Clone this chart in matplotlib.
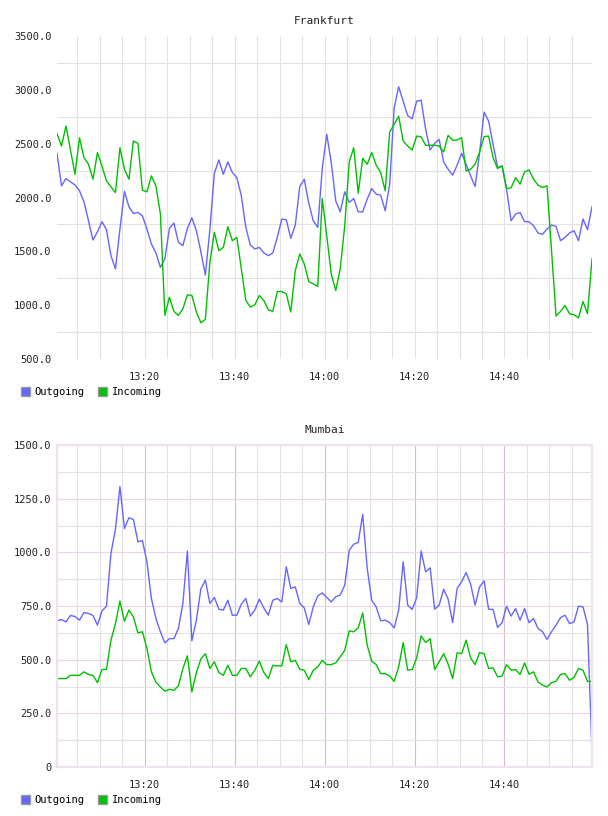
import pandas as pd
import matplotlib
matplotlib.use('Agg')
import matplotlib.pyplot as plt
import matplotlib.dates as mdates
from matplotlib.patches import Patch
from matplotlib.ticker import MultipleLocator, FuncFormatter

# one sample per minute, 13:00:28 .. 14:59:28
times = pd.date_range('2024-01-01 13:00:28', periods=120, freq='1min')

fra_out = [2411, 2108, 2176, 2145, 2117, 2062, 1960, 1784, 1605, 1682,
           1775, 1701, 1460, 1337, 1707, 2056, 1914, 1852, 1861, 1830,
           1707, 1568, 1485, 1352, 1430, 1713, 1763, 1584, 1553, 1713,
           1812, 1692, 1497, 1280, 1700, 2225, 2349, 2216, 2330, 2232,
           2185, 2016, 1722, 1559, 1522, 1537, 1485, 1460, 1485, 1630,
           1800, 1793, 1621, 1744, 2102, 2170, 1948, 1784, 1722, 2269,
           2587, 2324, 1969, 1867, 2053, 1954, 1991, 1867, 1867, 1985,
           2083, 2031, 2022, 1877, 2123, 2833, 3028, 2895, 2760, 2731,
           2895, 2904, 2633, 2441, 2503, 2540, 2330, 2262, 2207, 2300,
           2411, 2309, 2201, 2102, 2417, 2793, 2710, 2494, 2278, 2293,
           2077, 1784, 1846, 1861, 1775, 1775, 1738, 1670, 1658, 1707,
           1744, 1732, 1599, 1630, 1670, 1692, 1599, 1800, 1701, 1914]

fra_in = [2593, 2478, 2664, 2440, 2216, 2555, 2370, 2309, 2170, 2417,
          2293, 2155, 2100, 2046, 2463, 2262, 2170, 2525, 2503, 2068,
          2053, 2201, 2108, 1846, 905, 1074, 942, 905, 967, 1096,
          1090, 936, 837, 868, 1399, 1676, 1506, 1537, 1728, 1599,
          1630, 1337, 1044, 982, 1003, 1090, 1044, 957, 942, 1127,
          1127, 1105, 936, 1321, 1476, 1383, 1219, 1198, 1173, 1991,
          1645, 1290, 1136, 1337, 1738, 2330, 2463, 2040, 2364, 2309,
          2417, 2300, 2232, 2062, 2608, 2679, 2756, 2525, 2478, 2441,
          2571, 2562, 2485, 2485, 2485, 2478, 2423, 2577, 2531, 2534,
          2555, 2247, 2262, 2309, 2423, 2565, 2571, 2370, 2269, 2293,
          2083, 2090, 2185, 2124, 2238, 2256, 2170, 2114, 2093, 2108,
          1506, 899, 942, 997, 920, 911, 883, 1034, 920, 1430]

mum_out = [681, 687, 676, 706, 701, 684, 720, 715, 706, 661,
           727, 749, 995, 1108, 1306, 1111, 1161, 1153, 1049, 1055,
           956, 785, 692, 630, 578, 598, 598, 645, 762, 1006,
           588, 684, 830, 870, 762, 790, 735, 731, 777, 707,
           707, 759, 785, 703, 731, 782, 741, 707, 777, 785,
           769, 933, 832, 839, 762, 741, 664, 746, 797, 811,
           790, 769, 793, 801, 847, 1010, 1038, 1046, 1177, 925,
           777, 746, 681, 684, 673, 648, 731, 956, 754, 734,
           788, 1006, 909, 928, 735, 754, 828, 782, 673, 832,
           863, 906, 852, 754, 839, 867, 735, 734, 650, 672,
           749, 703, 738, 684, 738, 672, 692, 645, 630, 594,
           630, 661, 696, 707, 668, 676, 749, 746, 664, 65]

mum_in = [412, 412, 412, 427, 427, 427, 443, 431, 427, 393,
          454, 455, 591, 668, 773, 679, 731, 699, 625, 630,
          552, 443, 396, 373, 353, 362, 357, 378, 459, 518,
          350, 440, 503, 528, 459, 490, 440, 427, 474, 427,
          427, 459, 459, 420, 451, 493, 440, 412, 474, 471,
          471, 570, 490, 497, 455, 451, 407, 451, 466, 497,
          477, 477, 485, 513, 544, 634, 630, 648, 718, 567,
          493, 477, 435, 435, 424, 399, 466, 580, 451, 454,
          508, 611, 580, 598, 454, 490, 528, 479, 412, 532,
          528, 591, 508, 477, 533, 528, 459, 462, 420, 424,
          477, 451, 454, 431, 485, 432, 443, 396, 381, 373,
          393, 399, 431, 435, 404, 417, 459, 451, 399, 399]

BLUE = '#6666ff'
GREEN = '#00c000'
MONO = 'DejaVu Sans Mono'
TXT = '#222222'

fig = plt.figure(figsize=(6.08, 8.16), dpi=100)
ax1 = fig.add_axes([57 / 608, 1 - 359 / 816, 535 / 608, 323 / 816])
ax2 = fig.add_axes([57 / 608, 1 - 767 / 816, 535 / 608, 322 / 816])


def fmt_val(v, pos):
    return '0' if v == 0 else '%.1f' % v


def style(ax, title, lo, hi, step, bottom_chart):
    ax.set_xlim(times[0], times[-1])
    ax.set_ylim(lo, hi)
    ax.xaxis.set_major_locator(mdates.MinuteLocator(byminute=[0, 20, 40]))
    ax.xaxis.set_minor_locator(mdates.MinuteLocator(byminute=range(0, 60, 5)))
    ax.xaxis.set_major_formatter(mdates.DateFormatter('%H:%M'))
    ax.yaxis.set_major_locator(MultipleLocator(step))
    ax.yaxis.set_minor_locator(MultipleLocator(step / 2))
    ax.yaxis.set_major_formatter(FuncFormatter(fmt_val))
    ax.tick_params(which='both', length=0, labelsize=7.5, labelcolor=TXT)
    ax.tick_params(axis='x', pad=9)
    ax.tick_params(axis='y', pad=4)
    for lab in ax.get_xticklabels() + ax.get_yticklabels():
        lab.set_family(MONO)
    ax.set_title(title, fontsize=8, family=MONO, color=TXT, pad=8.5)
    ax.set_axisbelow(True)
    if bottom_chart:
        ax.grid(True, which='minor', color='#e2e2e2', lw=0.8)
        ax.grid(True, which='major', axis='y', color='#ead8ea', lw=0.8)
        ax.grid(True, which='major', axis='x', color='#d4bcd4', lw=0.8)
        for s in ax.spines.values():
            s.set_color('#f0e0f0')
            s.set_linewidth(1.6)
    else:
        ax.grid(True, which='minor', color='#e2e2e2', lw=0.8)
        ax.grid(True, which='major', axis='x', color='#e2e2e2', lw=0.8)
        for s in ax.spines.values():
            s.set_visible(False)


style(ax1, 'Frankfurt', 500, 3500, 500, False)
style(ax2, 'Mumbai', 0, 1500, 250, True)

ax1.plot(times, fra_out, color=BLUE, lw=1.0)
ax1.plot(times, fra_in, color=GREEN, lw=1.0)
ax2.plot(times, mum_out, color=BLUE, lw=1.0)
ax2.plot(times, mum_in, color=GREEN, lw=1.0)

handles = [Patch(facecolor=BLUE, edgecolor='#999999', label='Outgoing'),
           Patch(facecolor=GREEN, edgecolor='#999999', label='Incoming')]
for ypx in (392, 800):
    fig.legend(handles=handles, loc='center left', bbox_to_anchor=(21 / 608, 1 - ypx / 816),
               ncol=2, frameon=False, handlelength=0.9, handleheight=0.9,
               handletextpad=0.4, columnspacing=1.3, borderpad=0, borderaxespad=0,
               prop={'family': MONO, 'size': 7.5})

fig.savefig('out.png', dpi=100)
